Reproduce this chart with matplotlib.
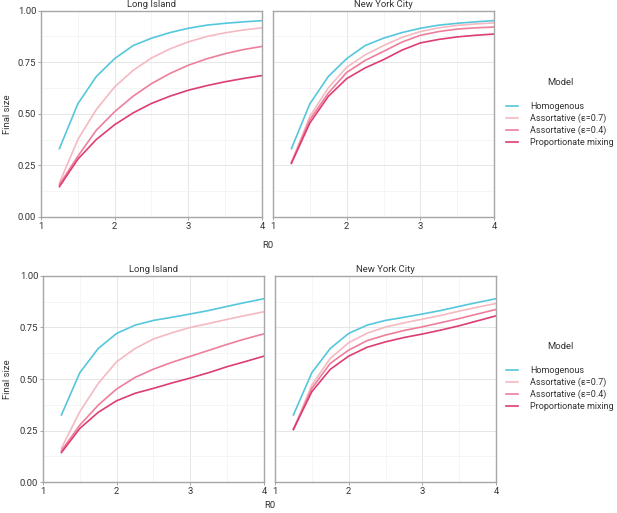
import matplotlib
matplotlib.use("Agg")
import matplotlib.pyplot as plt
from matplotlib.lines import Line2D

plt.rcParams['font.family'] = ['Roboto', 'DejaVu Sans']

# R0 values on the x axis
r0 = [1.25, 1.5, 1.75, 2.0, 2.25, 2.5, 2.75, 3.0, 3.25, 3.5, 3.75, 4.0]

model_names = ["Homogenous", "Assortative (\u03b5=0.7)",
               "Assortative (\u03b5=0.4)", "Proportionate mixing"]
model_colors = ["#55C7DD", "#F5B9C1", "#EE7F9B", "#DD3D73"]
regions = ["Long Island", "New York City"]

# top row
top_homog = [0.331, 0.548, 0.680, 0.767, 0.830, 0.866, 0.893, 0.914, 0.929, 0.938, 0.945, 0.951]
top_li_a07 = [0.165, 0.375, 0.520, 0.630, 0.710, 0.770, 0.814, 0.848, 0.874, 0.892, 0.906, 0.916]
top_li_a04 = [0.157, 0.294, 0.420, 0.510, 0.585, 0.646, 0.695, 0.735, 0.766, 0.791, 0.811, 0.826]
top_li_prop = [0.147, 0.280, 0.375, 0.447, 0.504, 0.550, 0.585, 0.614, 0.636, 0.655, 0.671, 0.685]
top_nyc_a07 = [0.265, 0.487, 0.625, 0.725, 0.785, 0.830, 0.870, 0.898, 0.916, 0.928, 0.935, 0.940]
top_nyc_a04 = [0.262, 0.471, 0.600, 0.700, 0.758, 0.802, 0.847, 0.880, 0.898, 0.910, 0.916, 0.920]
top_nyc_prop = [0.260, 0.455, 0.584, 0.670, 0.722, 0.762, 0.808, 0.843, 0.860, 0.872, 0.880, 0.886]

# bottom row
bot_homog = [0.326, 0.531, 0.648, 0.721, 0.761, 0.784, 0.799, 0.815, 0.832, 0.852, 0.871, 0.889]
bot_li_a07 = [0.165, 0.342, 0.479, 0.584, 0.648, 0.694, 0.724, 0.750, 0.769, 0.789, 0.808, 0.826]
bot_li_a04 = [0.153, 0.277, 0.374, 0.452, 0.508, 0.548, 0.581, 0.610, 0.639, 0.668, 0.695, 0.719]
bot_li_prop = [0.144, 0.261, 0.339, 0.395, 0.431, 0.455, 0.481, 0.505, 0.531, 0.560, 0.585, 0.611]
bot_nyc_a07 = [0.256, 0.471, 0.600, 0.676, 0.722, 0.752, 0.772, 0.790, 0.808, 0.829, 0.848, 0.866]
bot_nyc_a04 = [0.256, 0.455, 0.576, 0.640, 0.686, 0.713, 0.735, 0.753, 0.773, 0.793, 0.815, 0.837]
bot_nyc_prop = [0.256, 0.439, 0.547, 0.611, 0.654, 0.680, 0.701, 0.718, 0.737, 0.758, 0.782, 0.806]

rows = [
    [[top_homog, top_li_a07, top_li_a04, top_li_prop],
     [top_homog, top_nyc_a07, top_nyc_a04, top_nyc_prop]],
    [[bot_homog, bot_li_a07, bot_li_a04, bot_li_prop],
     [bot_homog, bot_nyc_a07, bot_nyc_a04, bot_nyc_prop]],
]

W, H = 617, 513
border = "#A6A6A6"
text_col = "#333333"
fs = 6.8
leg_fs = 6.5


def style_panel(ax, show_y):
    ax.set_xlim(1, 4)
    ax.set_ylim(0, 1)
    ax.set_xticks([1, 2, 3, 4])
    ax.set_xticks([1.5, 2.5, 3.5], minor=True)
    ax.set_yticks([0, 0.25, 0.5, 0.75, 1.0])
    ax.set_yticks([0.125, 0.375, 0.625, 0.875], minor=True)
    ax.grid(True, which="major", color="#E6E6E6", lw=0.7)
    ax.grid(True, which="minor", color="#F2F2F2", lw=0.5)
    ax.set_axisbelow(True)
    for s in ax.spines.values():
        s.set_color(border)
        s.set_linewidth(1.0)
    ax.tick_params(which="major", length=2.5, width=0.7, color=border,
                   labelsize=fs, labelcolor=text_col, pad=1)
    ax.tick_params(which="minor", length=0)
    if show_y:
        ax.set_yticklabels(["0.00", "0.25", "0.50", "0.75", "1.00"])
    else:
        ax.tick_params(axis="y", which="major", length=0, labelleft=False)


def draw_row(fig, data, lefts, bottom, ylab_y, xlab_y):
    pw, ph = 221 / W, 206.5 / H
    axes = []
    for i, left in enumerate(lefts):
        ax = fig.add_axes([left / W, bottom / H, pw, ph])
        for series, color in zip(data[i], model_colors):
            ax.plot(r0, series, color=color, lw=1.2)
        style_panel(ax, i == 0)
        ax.set_title(regions[i], fontsize=fs, color=text_col, pad=2.5)
        axes.append(ax)
    center_x = (lefts[0] + lefts[1] + 221) / 2 / W
    fig.text(center_x, xlab_y / H, "R0", ha="center", va="center",
             fontsize=fs, color=text_col)
    fig.text(8 / W, ylab_y / H, "Final size", rotation=90,
             ha="center", va="center", fontsize=fs, color=text_col)
    return axes


fig = plt.figure(figsize=(W / 100, H / 100), dpi=100)

draw_row(fig, rows[0], [41, 273], H - 217, H - 114, H - 245)
draw_row(fig, rows[1], [43, 275], H - 482.3, H - 379, H - 505)

handles = [Line2D([0], [0], color=c, lw=1.2) for c in model_colors]
for top_y in [H - 78, H - 342]:
    leg = fig.legend(handles, model_names, title="Model", loc="upper left",
                     bbox_to_anchor=(506 / W, top_y / H), frameon=False,
                     fontsize=leg_fs, title_fontsize=fs, handlelength=1.3,
                     handletextpad=1.4, labelspacing=0.28, borderaxespad=0,
                     borderpad=0)
    for t in leg.get_texts():
        t.set_color(text_col)
    leg.get_title().set_color(text_col)
    leg._legend_box.sep = 11

fig.savefig("out.png", dpi=100)
